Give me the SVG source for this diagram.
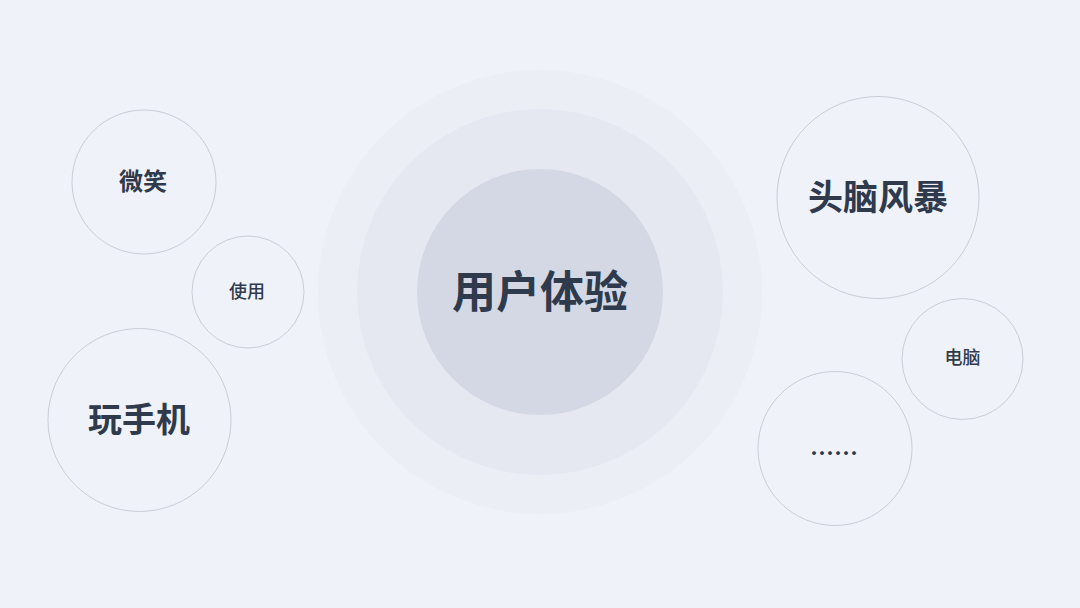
<svg xmlns="http://www.w3.org/2000/svg" width="1080" height="608" viewBox="0 0 1080 608">
<style>
.bubble{fill:none;stroke:#c9cdd6;stroke-width:1}
.t{font-family:"Noto Sans CJK SC","Noto Sans",sans-serif;fill:#2f3a4d;font-weight:700;text-anchor:middle;dominant-baseline:central}
</style>
<rect width="1080" height="608" fill="#eff2f9"/>
<g id="center">
<circle cx="540" cy="292" r="222" fill="#ebeef5"/>
<circle cx="540" cy="292" r="183" fill="#e5e8f0"/>
<circle cx="540" cy="292" r="123" fill="#d4d8e4"/>
<text class="t" x="540" y="289" font-size="44">用户体验</text>
</g>
<g id="connectors"></g>
<g id="n-weixiao">
<circle class="bubble" cx="144" cy="182" r="72"/>
<text class="t" x="143" y="179" font-size="24">微笑</text>
</g>
<g id="n-shiyong">
<circle class="bubble" cx="248" cy="292" r="56"/>
<text class="t" x="247" y="290" font-size="18" style="font-weight:500">使用</text>
</g>
<g id="n-wanshouji">
<circle class="bubble" cx="139.5" cy="420" r="91.5"/>
<text class="t" x="139" y="417" font-size="34">玩手机</text>
</g>
<g id="n-naobao">
<circle class="bubble" cx="878" cy="197.5" r="101"/>
<text class="t" x="878" y="194.5" font-size="35">头脑风暴</text>
</g>
<g id="n-diannao">
<circle class="bubble" cx="962.5" cy="359" r="60.5"/>
<text class="t" x="962.5" y="356" font-size="18" style="font-weight:500">电脑</text>
</g>
<g id="n-more">
<circle class="bubble" cx="835" cy="448.5" r="77"/>
<text class="t" x="834" y="451" font-size="24">……</text>
</g>
</svg>
